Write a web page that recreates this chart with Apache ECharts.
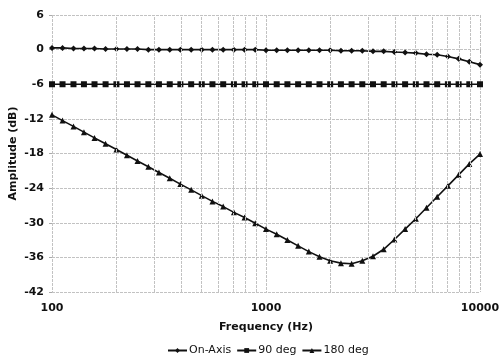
<!DOCTYPE html>
<html>
<head>
<meta charset="utf-8">
<script src="https://cdn.jsdelivr.net/npm/echarts@6/dist/echarts.min.js"></script>
<style>html,body{margin:0;padding:0;background:#fff;}#c{width:500px;height:361px;}</style>
</head>
<body>
<div id="c"></div>
<script>
var freqs = [100,112,126,141,158,178,200,224,251,282,316,355,398,447,501,562,631,708,794,891,
  1000,1122,1259,1413,1585,1778,1995,2239,2512,2818,3162,3548,3981,4467,5012,5623,6310,7079,7943,8913,10000];
var onAxis = [0.3,0.3,0.2,0.2,0.2,0.1,0.1,0.1,0.1,0.0,0.0,0.0,0.0,0.0,0.0,0.0,0.0,0.0,0.0,0.0,
  -0.1,-0.1,-0.1,-0.1,-0.1,-0.1,-0.1,-0.2,-0.2,-0.2,-0.3,-0.3,-0.4,-0.5,-0.6,-0.8,-0.9,-1.2,-1.6,-2.1,-2.6];
var deg90 = [-6.0,-6.0,-6.0,-6.0,-6.0,-6.0,-6.0,-6.0,-6.0,-6.0,-6.0,-6.0,-6.0,-6.0,-6.0,-6.0,-6.0,-6.0,-6.0,-6.0,
  -6.0,-6.0,-6.0,-6.0,-6.0,-6.0,-6.0,-6.0,-6.0,-6.0,-6.0,-6.0,-6.0,-6.0,-6.0,-6.0,-6.0,-6.0,-6.0,-6.0,-6.0];
var deg180 = [-11.3,-12.3,-13.3,-14.3,-15.3,-16.3,-17.3,-18.3,-19.3,-20.3,-21.3,-22.3,-23.3,-24.3,-25.3,-26.3,-27.2,-28.2,-29.1,-30.1,
  -31.1,-32.0,-33.0,-34.0,-35.0,-35.9,-36.6,-37.0,-37.1,-36.6,-35.8,-34.6,-32.9,-31.1,-29.3,-27.4,-25.5,-23.6,-21.7,-19.8,-18.1];
var seriesNames = ['On-Axis','90 deg','180 deg'];
var xTicks = [100,1000,10000];
var minorGrid = [200,300,400,500,600,700,800,900,2000,3000,4000,5000,6000,7000,8000,9000];
var yMin = -42, yMax = 6, yStep = 6;

function pairs(vals){ return freqs.map(function(f,i){ return [f, vals[i]]; }); }

var font = 'DejaVu Sans';
var gridStyle = {color:'#c2c2c2', type:[3,1], width:1};
var chart = echarts.init(document.getElementById('c'), null, {renderer:'canvas'});
var lineBase = {type:'line', smooth:false, lineStyle:{color:'#111', width:1.6}, itemStyle:{color:'#111'}, animation:false};
chart.setOption({
  animation:false,
  textStyle:{fontFamily:font},
  grid:{left:52, right:20, top:15, bottom:69, outerBoundsMode:'none', containLabel:false},
  legend:{
    data:seriesNames, left:162, top:340, itemWidth:19, itemHeight:6, itemGap:5,
    textStyle:{fontFamily:font, fontSize:11, color:'#111', padding:[0,0,0,-3]}
  },
  xAxis:{
    type:'log', logBase:10, min:100, max:10000,
    name:'Frequency (Hz)', nameLocation:'middle', nameGap:30, nameMoveOverlap:false,
    nameTextStyle:{fontFamily:font, fontSize:11, fontWeight:'bold', color:'#111'},
    axisLine:{show:false},
    axisTick:{show:true, length:3, lineStyle:{color:'#aaa'}},
    axisLabel:{fontFamily:font, fontSize:11, fontWeight:'bold', color:'#111', margin:11,
      formatter:function(v){ return xTicks.indexOf(Math.round(v))>=0 ? String(Math.round(v)) : ''; }},
    splitLine:{show:true, lineStyle:gridStyle}
  },
  yAxis:{
    type:'value', min:yMin, max:yMax, interval:yStep,
    name:'Amplitude (dB)', nameLocation:'middle', nameGap:33, nameMoveOverlap:false,
    nameTextStyle:{fontFamily:font, fontSize:11, fontWeight:'bold', color:'#111'},
    axisLine:{show:false},
    axisTick:{show:true, length:3, lineStyle:{color:'#aaa'}},
    axisLabel:{fontFamily:font, fontSize:11, fontWeight:'bold', color:'#111', margin:8},
    splitLine:{show:true, lineStyle:gridStyle}
  },
  series:[
    Object.assign({}, lineBase, {name:seriesNames[0], data:pairs(onAxis), symbol:'diamond', symbolSize:6,
      markLine:{silent:true, symbol:['none','none'], label:{show:false},
        lineStyle:gridStyle, emphasis:{disabled:true},
        data:minorGrid.map(function(v){ return {xAxis:v}; })}}),
    Object.assign({}, lineBase, {name:seriesNames[1], data:pairs(deg90), symbol:'rect', symbolSize:6}),
    Object.assign({}, lineBase, {name:seriesNames[2], data:pairs(deg180), symbol:'triangle', symbolSize:6})
  ]
});
</script>
</body>
</html>
